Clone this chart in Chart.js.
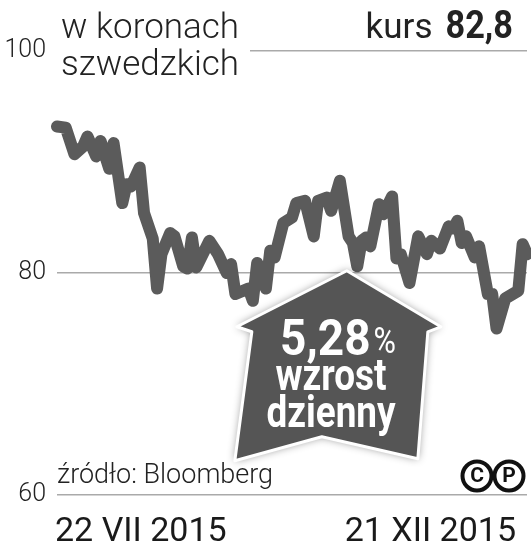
<!DOCTYPE html>
<html lang="pl">
<head>
  <meta charset="UTF-8">
  <title>Kurs w koronach szwedzkich</title>
  <script src="https://cdn.jsdelivr.net/npm/chart.js"></script>
  <style>
    /* page: white, chart fills the window */
    html, body {
      margin: 0;
      padding: 0;
      background: #fff;
    }
    .wrap {
      width: 531px;
      height: 551px;
    }
  </style>
</head>
<body>
  <div class="wrap">
    <canvas id="kursChart" width="531" height="551"></canvas>
  </div>

  <script>
    // trading day index since 22 VII 2015
    const days = [0, 2, 4, 6, 7, 9, 10, 12, 13, 15, 16, 17, 19, 20, 22, 23, 24, 26, 27, 29,
      30, 31, 32, 35, 37, 39, 40, 41, 44, 45, 46, 48, 49, 50, 52, 54, 55, 57, 59, 60,
      62, 63, 65, 67, 68, 69, 70, 71, 72, 74, 75, 77, 78, 79, 81, 83, 85, 86, 88, 90,
      91, 92, 93, 94, 96, 97, 99, 100, 101, 103, 106, 107, 108];
    // closing price, SEK
    const prices = [93.2, 93.1, 90.7, 91.4, 92.3, 90.5, 91.9, 89.4, 91.7, 86.3, 88.0, 87.8, 89.5, 85.4, 83.1, 78.6, 81.7, 83.6, 83.3, 80.6,
      80.4, 83.2, 80.5, 82.9, 81.7, 80.0, 80.8, 78.1, 78.6, 77.5, 80.9, 78.6, 82.0, 81.4, 84.5, 85.0, 86.3, 86.5, 83.3, 86.5,
      86.8, 85.6, 88.3, 83.3, 82.7, 80.6, 82.9, 83.2, 82.4, 86.2, 85.3, 86.9, 81.3, 81.7, 79.1, 83.3, 81.7, 82.9, 82.2, 84.2,
      84.0, 84.7, 82.7, 83.3, 81.4, 82.4, 78.1, 78.1, 75.0, 77.7, 78.4, 82.6, 81.7];
    const yTicks = [60, 80, 100];
    const dateLabels = ['22 VII 2015', '21 XII 2015'];
    const lastDay = 108;

    const unit = 'w koronach';
    const unit2 = 'szwedzkich';
    const kursLabel = 'kurs';
    const kursValue = '82,8';
    const changeValue = '5,28';
    const changeLines = ['wzrost', 'dzienny'];
    const source = 'źródło: Bloomberg';

    const INK = '#222';
    const LINE = '#5b5b5b';

    // condensed text helper: squeeze horizontally around the anchor
    function squeezed(ctx, text, x, y, sx, align) {
      ctx.save();
      ctx.translate(x, y);
      ctx.scale(sx, 1);
      ctx.textAlign = align;
      ctx.fillText(text, 0, 0);
      ctx.restore();
    }

    // texts, callout and logo drawn on top of the chart
    const decor = {
      id: 'decor',
      beforeDatasetsDraw(chart) {
        const ctx = chart.ctx;
        ctx.save();
        // title block hides the left part of the 100 gridline
        ctx.fillStyle = '#fff';
        ctx.fillRect(57, 44, 193, 14);
        ctx.fillStyle = INK;
        ctx.textBaseline = 'alphabetic';
        ctx.textAlign = 'left';
        ctx.font = '300 35px Roboto';
        ctx.fillText(unit, 61, 38);
        ctx.fillText(unit2, 61, 75);

        // kurs 82,8 (right aligned)
        ctx.font = 'bold 39px Roboto';
        const wv = ctx.measureText(kursValue).width * 0.88;
        squeezed(ctx, kursValue, 513, 38, 0.88, 'right');
        ctx.font = '400 35px Roboto';
        const wk = ctx.measureText(kursLabel).width;
        ctx.fillText(kursLabel, 513 - wv - 13 - wk, 38);
        ctx.restore();
      },
      afterDatasetsDraw(chart) {
        const ctx = chart.ctx;
        const xs = chart.scales.x;
        const ys = chart.scales.y;
        ctx.save();

        // up-arrow callout, apex sits on the line near the 80 level
        const ax = xs.getPixelForValue(66.6);
        const ay = ys.getPixelForValue(80.2);
        const shape = [[0, 0], [94, 56], [81, 61], [71, 188], [-25, 166], [-112, 190], [-95, 61], [-110, 56]];
        ctx.beginPath();
        shape.forEach(([dx, dy], i) => {
          if (i === 0) ctx.moveTo(ax + dx, ay + dy);
          else ctx.lineTo(ax + dx, ay + dy);
        });
        ctx.closePath();
        ctx.lineJoin = 'round';
        ctx.shadowColor = 'rgba(0,0,0,0.45)';
        ctx.shadowBlur = 8;
        ctx.fillStyle = '#555';
        ctx.fill();
        ctx.shadowColor = 'transparent';
        ctx.strokeStyle = '#fff';
        ctx.lineWidth = 3;
        ctx.stroke();

        ctx.fillStyle = '#fff';
        ctx.textBaseline = 'alphabetic';
        ctx.textAlign = 'left';
        ctx.font = 'bold 50px Roboto';
        const w1 = ctx.measureText(changeValue).width * 0.92;
        ctx.font = '400 36px Roboto';
        const w2 = ctx.measureText('%').width * 0.85;
        const tx = 338 - (w1 + w2 + 3) / 2;
        ctx.font = 'bold 50px Roboto';
        squeezed(ctx, changeValue, tx, 355, 0.92, 'left');
        ctx.font = '400 36px Roboto';
        squeezed(ctx, '%', tx + w1 + 3, 353, 0.85, 'left');

        // condensed bold lines
        ctx.font = 'bold 45px Roboto';
        squeezed(ctx, changeLines[0], 331, 390, 0.82, 'center');
        squeezed(ctx, changeLines[1], 331, 427, 0.82, 'center');

        // source
        ctx.fillStyle = INK;
        ctx.font = '300 27px Roboto';
        ctx.fillText(source, 57, 483);

        // (C)(P) mark
        ctx.strokeStyle = '#111';
        ctx.lineWidth = 4;
        ctx.fillStyle = '#111';
        ctx.font = 'bold 21px Roboto';
        ctx.textAlign = 'center';
        ctx.textBaseline = 'middle';
        [['C', 477], ['P', 509]].forEach(([t, cx]) => {
          ctx.beginPath();
          ctx.arc(cx, 476, 14.5, 0, Math.PI * 2);
          ctx.stroke();
          ctx.fillText(t, cx, 477);
        });

        // date labels under the chart
        ctx.fillStyle = '#1a1a1a';
        ctx.font = '400 34px Roboto';
        ctx.textBaseline = 'alphabetic';
        ctx.textAlign = 'left';
        ctx.fillText(dateLabels[0], 55, 541);
        ctx.textAlign = 'right';
        ctx.fillText(dateLabels[1], 516, 541);
        ctx.restore();
      }
    };

    const ctx = document.getElementById('kursChart').getContext('2d');
    new Chart(ctx, {
      type: 'line',
      data: {
        datasets: [{
          data: days.map((d, i) => ({ x: d, y: prices[i] })),
          borderColor: LINE,
          borderWidth: 12,
          borderJoinStyle: 'round',
          borderCapStyle: 'round',
          pointRadius: 0,
          tension: 0,
          fill: false,
          clip: false
        }]
      },
      options: {
        responsive: false,
        animation: false,
        events: [],
        layout: {
          padding: { left: 0, top: 51, right: 4, bottom: 56 }
        },
        plugins: {
          legend: { display: false },
          tooltip: { enabled: false }
        },
        scales: {
          x: {
            type: 'linear',
            min: 0,
            max: lastDay,
            display: false
          },
          y: {
            min: 60,
            max: 100,
            afterBuildTicks(s) {
              s.ticks = yTicks.map(v => ({ value: v }));
            },
            afterFit(s) {
              s.width = 57;
              s.paddingTop = 0;
              s.paddingBottom = 0;
            },
            border: { display: false },
            grid: {
              color: '#aaa',
              lineWidth: 1.5,
              drawTicks: false
            },
            ticks: {
              padding: 11,
              color: INK,
              font: { family: 'Roboto', size: 25, weight: '300' }
            }
          }
        }
      },
      plugins: [decor]
    });
  </script>
</body>
</html>
